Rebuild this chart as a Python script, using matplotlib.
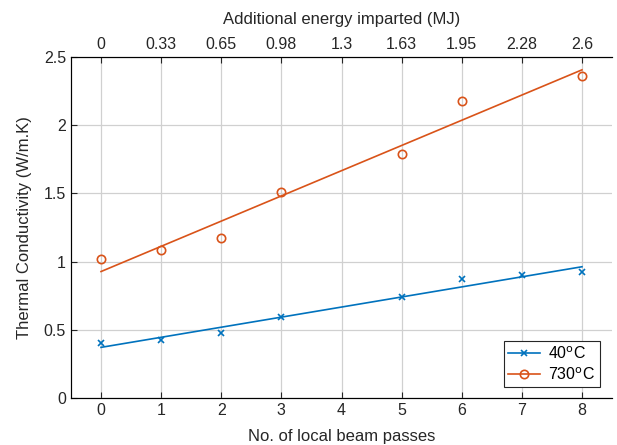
import matplotlib
matplotlib.use("Agg")
import matplotlib.pyplot as plt
from matplotlib.lines import Line2D
import numpy as np

plt.rcParams['font.family'] = ['Liberation Sans', 'DejaVu Sans']

passes_40 = [0, 1, 2, 3, 5, 6, 7, 8]
tc_40 = [0.407, 0.427, 0.476, 0.595, 0.742, 0.873, 0.903, 0.922]
passes_730 = [0, 1, 2, 3, 5, 6, 8]
tc_730 = [1.017, 1.086, 1.171, 1.51, 1.79, 2.179, 2.362]
energy_labels = ['0', '0.33', '0.65', '0.98', '1.3', '1.63', '1.95', '2.28', '2.6']

blue = '#0072BD'
orange = '#D95319'

fig = plt.figure(figsize=(6.17, 4.45), dpi=100)
ax = fig.add_axes([0.115, 0.105, 0.877, 0.767])

# linear fits through the measured points
xs = np.array([0, 8])
for px, py, c, m, ms in [(passes_40, tc_40, blue, 'x', 4.5), (passes_730, tc_730, orange, 'o', 6)]:
    k, b = np.polyfit(px, py, 1)
    ax.plot(xs, k * xs + b, color=c, lw=1.2)
    ax.plot(px, py, ls='none', marker=m, color=c, ms=ms, mfc='none', mew=1.2)

ax.set_xlim(-0.5, 8.5)
ax.set_ylim(0, 2.5)
ax.set_xticks(range(9))
ax.set_yticks([0, 0.5, 1, 1.5, 2, 2.5])
ax.set_yticklabels(['0', '0.5', '1', '1.5', '2', '2.5'])
ax.grid(True, color='#d0d0d0', lw=0.9)
ax.set_axisbelow(True)
ax.tick_params(direction='in', labelsize=11.5, colors='#262626', length=4)
ax.spines['right'].set_visible(False)
for s in ['left', 'bottom', 'top']:
    ax.spines[s].set_color('#262626')
ax.set_xlabel('No. of local beam passes', fontsize=12, color='#262626', labelpad=7.5)
ax.set_ylabel('Thermal Conductivity (W/m.K)', fontsize=12, color='#262626', labelpad=8.5)

top = ax.twiny()
top.set_xlim(ax.get_xlim())
top.set_xticks(range(9))
top.set_xticklabels(energy_labels)
top.tick_params(direction='in', labelsize=11.5, colors='#262626', length=4)
top.spines['right'].set_visible(False)
top.set_xlabel('Additional energy imparted (MJ)', fontsize=12, color='#262626', labelpad=9.5)

handles = [Line2D([], [], color=blue, marker='x', ms=4.5, mew=1.2, lw=1.2),
           Line2D([], [], color=orange, marker='o', ms=6, mfc='none', mew=1.2, lw=1.2)]
leg = ax.legend(handles, ['40$^{\\rm o}$C', '730$^{\\rm o}$C'], loc='lower right',
                fontsize=11.5, fancybox=False, edgecolor='#262626', framealpha=1,
                bbox_to_anchor=(0.978, 0.032), handlelength=2.0, borderpad=0.3,
                labelspacing=0.25, handletextpad=0.5, borderaxespad=0)
leg.get_frame().set_linewidth(0.8)

fig.savefig('out.png', dpi=100)
